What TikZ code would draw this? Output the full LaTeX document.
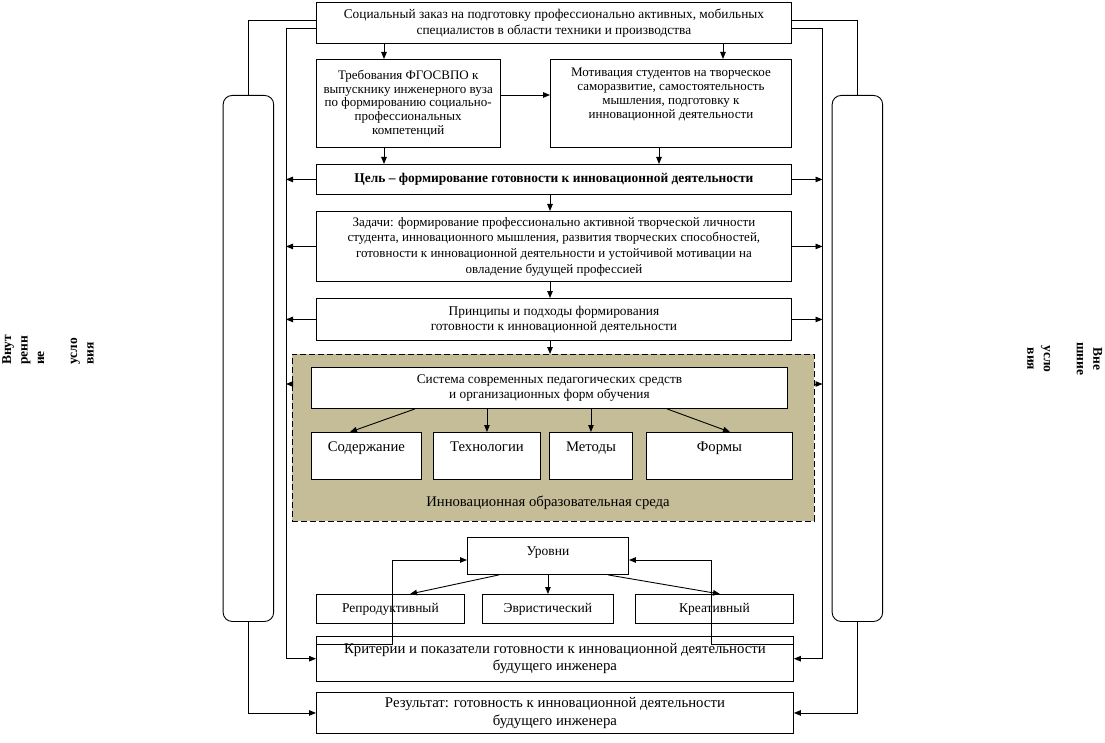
\documentclass[tikz,border=0pt]{standalone}
\usepackage{fontspec}
\setmainfont{Liberation Serif}
\usetikzlibrary{arrows.meta,calc}
\definecolor{envtan}{RGB}{196,189,151}
\newcommand\fs[2]{\fontsize{#1}{#2}\selectfont}
\begin{document}
\begin{tikzpicture}[x=1pt,y=-1pt,
  bx/.style={draw, line width=0.9pt, fill=white, inner sep=0pt, align=center, anchor=north west},
  arr/.style={line width=0.9pt, -{Triangle[length=7pt,width=5.5pt]}},
  ln/.style={line width=0.9pt},
  side/.style={draw, line width=0.9pt, rounded corners=9pt, inner sep=0pt, anchor=north west, minimum width=50.5, minimum height=526},
  cond/.style={inner sep=0pt, font=\bfseries\fs{13.5}{16.5}}]
\useasboundingbox (0,0) rectangle (1105,743);
% helper coordinates
\coordinate (yA) at (0,20);
\coordinate (yB) at (0,28);
\coordinate (yM) at (0,95);
\coordinate (cA) at (384,0);
\coordinate (cB) at (723,0);
\coordinate (cC) at (659,0);
\coordinate (cD) at (550,0);
\coordinate (L2) at (286,0);
\coordinate (R2) at (822.5,0);
% side rounded boxes
\node[side] (lrect) at (222.7,95) {};
\node[side] (rrect) at (831.7,95) {};
% boxes
\node[bx, minimum width=475, minimum height=41, font=\fs{13.35}{16}] (top) at (316,2)
  {Социальный заказ на подготовку профессионально активных, мобильных\\специалистов в области техники и производства};
\node[bx, minimum width=183.5, minimum height=88] (req) at (316,59)
  {\raisebox{18pt}{\parbox{183pt}{\fs{13}{13.75}\centering Требования ФГОСВПО к\\выпускнику инженерного вуза\\по формированию социально-\\профессиональных\\компетенций}}};
\node[bx, minimum width=241, minimum height=88] (mot) at (550,59)
  {\raisebox{41pt}{\parbox{240pt}{\fs{13}{14}\centering Мотивация студентов на творческое\\саморазвитие, самостоятельность\\мышления, подготовку к\\инновационной деятельности}}};
\node[bx, minimum width=475, minimum height=30, font=\bfseries\fs{13.4}{15}] (goal) at (316,164)
  {Цель – формирование готовности к инновационной деятельности};
\node[bx, minimum width=475, minimum height=70, font=\fs{13}{15.7}] (tasks) at (316,211)
  {Задачи: формирование профессионально активной творческой личности\\студента, инновационного мышления, развития творческих способностей,\\готовности к инновационной деятельности и устойчивой мотивации на\\овладение будущей профессией};
\node[bx, minimum width=475, minimum height=42, font=\fs{13.4}{15}] (princ) at (316,298)
  {Принципы и подходы формирования\\готовности к инновационной деятельности};
% environment
\node[draw, line width=0.9pt, dash pattern=on 6pt off 3pt, fill=envtan, anchor=north west,
  minimum width=522, minimum height=167, inner sep=0pt] (env) at (292,354) {};
\node[bx, minimum width=476, minimum height=41, font=\fs{13.3}{15}] (sys) at (311,367)
  {Система современных педагогических средств\\и организационных форм обучения};
\node[bx, minimum width=110, minimum height=47, font=\fs{14.7}{16}] (cont) at (311,432) {\raisebox{19pt}{Содержание}};
\node[bx, minimum width=107, minimum height=47, font=\fs{14.7}{16}] (tech) at (433,432) {\raisebox{19pt}{Технологии}};
\node[bx, minimum width=83, minimum height=47, font=\fs{14.7}{16}] (meth) at (549,432) {\raisebox{19pt}{Методы}};
\node[bx, minimum width=146, minimum height=47, font=\fs{14.7}{16}] (forms) at (646,432) {\raisebox{19pt}{Формы}};
\node[font=\fs{14.7}{16}, inner sep=0pt] (envlbl) at (548,503) {Инновационная образовательная среда};
% levels
\node[bx, minimum width=161, minimum height=37, font=\fs{13.5}{15}] (levels) at (467,537) {\raisebox{10pt}{Уровни}};
\node[bx, minimum width=148, minimum height=29, font=\fs{13.5}{15}] (repro) at (316,594) {Репродуктивный};
\node[bx, minimum width=131, minimum height=29, font=\fs{13.5}{15}] (heur) at (482,594) {Эвристический};
\node[bx, minimum width=158, minimum height=29, font=\fs{13.5}{15}] (creat) at (635,594) {Креативный};
\node[bx, minimum width=477, minimum height=45.5, font=\fs{14.8}{17.5}] (crit) at (316,635.5)
  {Критерии и показатели готовности к инновационной деятельности\\будущего инженера};
\node[bx, minimum width=477, minimum height=41, font=\fs{14.8}{17.5}] (result) at (316,692)
  {Результат: готовность к инновационной деятельности\\будущего инженера};
% side texts
\node[cond, rotate=90, anchor=north west, align=left] (lcond) at (2,365)
  {Внут\\ренн\\ие\\[16.5pt]усло\\вия};
\node[cond, rotate=-90, anchor=north, align=center] (rcond) at (1102.5,359)
  {Вне\\шние\\[16.5pt]усло\\вия};
% outer frame lines
\draw[ln] (top.west |- yA) -| (lrect.north);
\draw[arr] (lrect.south) |- (result.west);
\draw[arr] (top.west |- yB) -| (L2 |- crit.west) -- (crit.west);
\draw[ln] (top.east |- yA) -| (rrect.north);
\draw[arr] (rrect.south) |- (result.east);
\draw[arr] (top.east |- yB) -| (R2 |- crit.east) -- (crit.east);
% top flow
\draw[arr] (top.south -| cA) -- (req.north -| cA);
\draw[arr] (top.south -| cB) -- (mot.north -| cB);
\draw[arr] (req.east |- yM) -- (mot.west |- yM);
\draw[arr] (req.south -| cA) -- (goal.north -| cA);
\draw[arr] (mot.south -| cC) -- (goal.north -| cC);
\draw[arr] (goal.south -| cD) -- (tasks.north -| cD);
\draw[arr] (tasks.south -| cD) -- (princ.north -| cD);
\draw[arr] (princ.south -| cD) -- (env.north -| cD);
% side arrows
\foreach \b in {goal,tasks,princ}{
  \draw[arr] (\b.west) -- (\b.west -| L2);
  \draw[arr] (\b.east) -- (\b.east -| R2);
}
\coordinate (envy) at ($(env.north west)+(0,30)$);
\draw[arr] (envy) -- (envy -| L2);
\draw[arr] (env.east |- envy) -- (R2 |- envy);
% system arrows
\coordinate (s1) at (415,0); \coordinate (s2) at (350,0);
\coordinate (s3) at (667,0); \coordinate (s4) at (730,0);
\draw[arr] (sys.south -| s1) -- (cont.north -| s2);
\draw[arr] (tech.north |- sys.south) -- (tech.north);
\draw[arr] (meth.north |- sys.south) -- (meth.north);
\draw[arr] (sys.south -| s3) -- (forms.north -| s4);
% levels arrows
\coordinate (v1) at (499,0); \coordinate (v2) at (410,0);
\coordinate (v3) at (608,0); \coordinate (v4) at (720,0);
\draw[arr] (levels.south -| v1) -- (repro.north -| v2);
\draw[arr] (heur.north |- levels.south) -- (heur.north);
\draw[arr] (levels.south -| v3) -- (creat.north -| v4);
% feedback loops
\coordinate (lpA) at (392,560);
\coordinate (lpB) at (711,560);
\draw[arr] ($(crit.north west)+(0,9)$) -| (lpA) -- (levels.west |- lpA);
\draw[arr] ($(crit.north east)+(0,9)$) -| (lpB) -- (levels.east |- lpB);
\end{tikzpicture}
\end{document}
